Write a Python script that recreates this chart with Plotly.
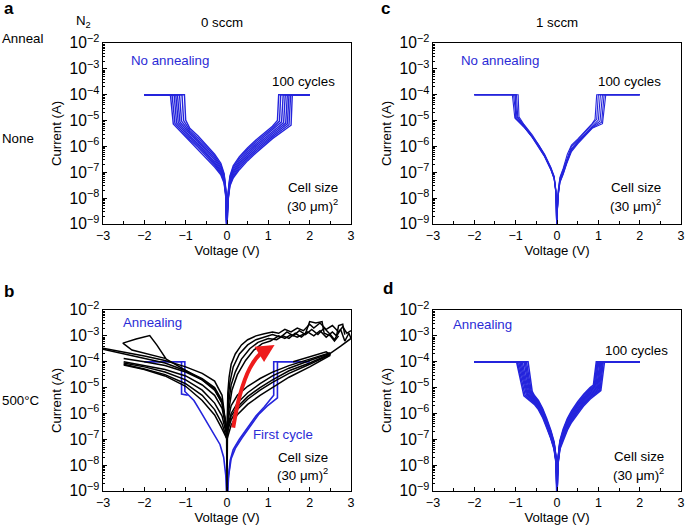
import plotly.graph_objects as go

BLUE = '#2424dc'
TXT_BLUE = '#2b2bd6'
RED = '#ee1c1c'
FONT = 'Arial, Liberation Sans, sans-serif'

# common sweep settings (log10 of current)
sweep_end = 2.0
compliance_logi = -4.0
zero_logi = -9.5

# ---- panel a : no annealing, 0 sccm ----
a_neg_v = [-0.01, -0.03, -0.07, -0.15, -0.3, -0.5, -0.7, -0.9]
a_neg_logi = [
    [-8.3, -7.65, -7.05, -6.65, -6.3, -5.95, -5.6, -5.3],
    [-8.3, -7.7, -7.1, -6.72, -6.37, -6.02, -5.68, -5.38],
    [-8.35, -7.72, -7.15, -6.8, -6.45, -6.1, -5.76, -5.45],
    [-8.4, -7.78, -7.22, -6.87, -6.52, -6.17, -5.82, -5.52],
    [-8.4, -7.8, -7.27, -6.93, -6.6, -6.25, -5.9, -5.6],
    [-8.45, -7.85, -7.32, -6.99, -6.66, -6.31, -5.96, -5.66],
    [-8.5, -7.9, -7.37, -7.05, -6.73, -6.38, -6.03, -5.73],
    [-8.5, -7.95, -7.42, -7.1, -6.8, -6.45, -6.1, -5.8],
]
a_neg_kink_v = [-1.0, -1.05, -1.1, -1.14, -1.18, -1.22, -1.26, -1.3]
a_neg_kink_logi = [-4.98, -5.0, -5.02, -5.05, -5.07, -5.09, -5.11, -5.13]
a_neg_set_v = [-1.03, -1.09, -1.15, -1.2, -1.24, -1.28, -1.33, -1.37]
a_pos_v = [0.01, 0.03, 0.07, 0.15, 0.3, 0.5, 0.7, 0.9, 1.1]
a_pos_logi = [
    [-8.4, -7.75, -7.15, -6.75, -6.4, -6.05, -5.75, -5.48, -5.22],
    [-8.4, -7.8, -7.2, -6.82, -6.47, -6.12, -5.82, -5.55, -5.29],
    [-8.45, -7.83, -7.26, -6.9, -6.55, -6.2, -5.9, -5.62, -5.36],
    [-8.5, -7.88, -7.32, -6.97, -6.62, -6.27, -5.97, -5.69, -5.43],
    [-8.5, -7.92, -7.38, -7.03, -6.69, -6.34, -6.04, -5.76, -5.5],
    [-8.55, -7.96, -7.43, -7.1, -6.76, -6.41, -6.11, -5.83, -5.57],
    [-8.6, -8.0, -7.48, -7.17, -6.83, -6.48, -6.18, -5.9, -5.63],
    [-8.6, -8.05, -7.53, -7.22, -6.9, -6.55, -6.25, -5.97, -5.7],
]
a_pos_kink_v = [1.22, 1.27, 1.32, 1.37, 1.42, 1.46, 1.5, 1.55]
a_pos_kink_logi = [-5.0, -5.02, -5.05, -5.08, -5.1, -5.13, -5.16, -5.18]
a_pos_set_v = [1.25, 1.3, 1.36, 1.41, 1.46, 1.5, 1.54, 1.58]

# ---- panel c : no annealing, 1 sccm ----
c_neg_v = [-0.01, -0.03, -0.07, -0.15, -0.3, -0.45, -0.6, -0.8]
c_neg_logi = [
    [-8.3, -7.65, -7.15, -6.8, -6.3, -5.9, -5.55, -5.15],
    [-8.3, -7.68, -7.18, -6.83, -6.33, -5.93, -5.58, -5.18],
    [-8.35, -7.7, -7.2, -6.85, -6.35, -5.95, -5.6, -5.2],
    [-8.35, -7.72, -7.22, -6.87, -6.37, -5.97, -5.62, -5.22],
    [-8.4, -7.75, -7.25, -6.9, -6.4, -6.0, -5.65, -5.25],
    [-8.4, -7.75, -7.24, -6.88, -6.38, -5.98, -5.63, -5.24],
]
c_neg_kink_v = [-0.92, -0.95, -0.97, -0.99, -1.02, -1.0]
c_neg_kink_logi = [-4.85, -4.86, -4.85, -4.88, -4.9, -4.92]
c_neg_set_v = [-0.94, -0.98, -1.02, -1.05, -1.08, -1.0]
c_pos_v = [0.01, 0.03, 0.07, 0.15, 0.25, 0.35, 0.5, 0.7, 0.85]
c_pos_logi = [
    [-8.35, -7.7, -7.2, -6.85, -6.3, -5.95, -5.72, -5.38, -5.12],
    [-8.4, -7.75, -7.25, -6.9, -6.4, -6.0, -5.76, -5.42, -5.16],
    [-8.4, -7.8, -7.3, -6.95, -6.45, -6.08, -5.8, -5.46, -5.2],
    [-8.45, -7.85, -7.35, -7.0, -6.5, -6.12, -5.84, -5.5, -5.25],
    [-8.45, -7.88, -7.38, -7.05, -6.55, -6.15, -5.86, -5.52, -5.28],
    [-8.5, -7.9, -7.4, -7.08, -6.6, -6.2, -5.9, -5.55, -5.3],
]
c_pos_kink_v = [0.92, 0.96, 1.0, 1.04, 1.08, 1.1]
c_pos_kink_logi = [-4.95, -4.95, -4.98, -5.02, -5.06, -5.12]
c_pos_set_v = [0.96, 1.0, 1.05, 1.1, 1.14, 1.18]

# ---- panel d : annealing, 1 sccm ----
d_neg_v = [-0.01, -0.03, -0.07, -0.15, -0.25, -0.35, -0.45, -0.55]
d_neg_logi = [
    [-8.2, -7.6, -7.1, -6.65, -6.2, -5.8, -5.5, -5.3],
    [-8.25, -7.62, -7.15, -6.7, -6.25, -5.85, -5.55, -5.35],
    [-8.25, -7.65, -7.18, -6.73, -6.28, -5.88, -5.58, -5.38],
    [-8.3, -7.68, -7.22, -6.77, -6.32, -5.92, -5.62, -5.42],
    [-8.3, -7.7, -7.25, -6.8, -6.35, -5.95, -5.65, -5.45],
    [-8.35, -7.72, -7.28, -6.83, -6.38, -5.98, -5.68, -5.48],
    [-8.35, -7.75, -7.3, -6.86, -6.42, -6.02, -5.72, -5.52],
    [-8.4, -7.78, -7.33, -6.9, -6.46, -6.06, -5.76, -5.56],
    [-8.4, -7.8, -7.36, -6.93, -6.5, -6.1, -5.8, -5.6],
    [-8.45, -7.85, -7.4, -6.97, -6.55, -6.15, -5.85, -5.65],
]
d_neg_kink_v = [-0.6, -0.62, -0.64, -0.66, -0.68, -0.7, -0.72, -0.74, -0.77, -0.8]
d_neg_kink_logi = [-5.15, -5.18, -5.2, -5.2, -5.22, -5.25, -5.25, -5.28, -5.3, -5.32]
d_neg_set_v = [-0.7, -0.74, -0.77, -0.8, -0.84, -0.87, -0.9, -0.93, -0.96, -0.98]
d_pos_v = [0.01, 0.03, 0.07, 0.15, 0.25, 0.35, 0.5, 0.65, 0.8]
d_pos_logi = [
    [-8.3, -7.65, -7.05, -6.6, -6.2, -5.9, -5.55, -5.25, -5.0],
    [-8.3, -7.68, -7.1, -6.66, -6.26, -5.96, -5.61, -5.31, -5.06],
    [-8.35, -7.7, -7.13, -6.71, -6.31, -6.01, -5.66, -5.36, -5.11],
    [-8.35, -7.72, -7.16, -6.75, -6.35, -6.05, -5.7, -5.4, -5.15],
    [-8.4, -7.75, -7.2, -6.8, -6.4, -6.1, -5.75, -5.45, -5.2],
    [-8.4, -7.78, -7.24, -6.85, -6.45, -6.15, -5.8, -5.5, -5.25],
    [-8.45, -7.8, -7.27, -6.89, -6.5, -6.2, -5.85, -5.55, -5.3],
    [-8.45, -7.83, -7.3, -6.93, -6.55, -6.25, -5.9, -5.6, -5.35],
    [-8.5, -7.86, -7.34, -6.97, -6.6, -6.3, -5.95, -5.65, -5.4],
    [-8.5, -7.9, -7.38, -7.02, -6.65, -6.35, -6.0, -5.7, -5.45],
]
d_pos_kink_v = [0.88, 0.9, 0.92, 0.94, 0.96, 0.98, 1.0, 1.02, 1.04, 1.06]
d_pos_kink_logi = [-4.9, -4.93, -4.95, -4.97, -5.0, -5.02, -5.05, -5.08, -5.1, -5.12]
d_pos_set_v = [0.95, 0.97, 0.99, 1.01, 1.04, 1.06, 1.08, 1.1, 1.12, 1.15]

# ---- panel b : annealing, 0 sccm ----
b_blue_v = [
    [-2.0, -1.02, -1.02, -0.8, -0.66, -0.5, -0.34, -0.17, -0.08, -0.03, 0.0],
    [-2.0, -1.1, -1.1, -0.95],
    [0.0, 0.03, 0.08, 0.15, 0.3, 0.5, 0.7, 0.9, 1.13, 1.13, 2.0],
    [0.0, 0.04, 0.1, 0.2, 0.36, 0.56, 0.76, 0.97, 1.22, 1.22, 2.0],
]
b_blue_logi = [
    [-4.0, -4.0, -5.15, -5.5, -5.87, -6.3, -6.77, -7.2, -7.7, -8.4, -9.5],
    [-4.0, -4.0, -5.25, -5.3],
    [-9.5, -8.5, -7.8, -7.4, -7.0, -6.55, -6.1, -5.75, -5.3, -4.0, -4.0],
    [-9.5, -8.4, -7.75, -7.35, -6.95, -6.5, -6.05, -5.72, -5.4, -4.0, -4.0],
]
b_black_v = [
    [-3.0, -2.5, -2.0, -1.5, -1.0, -0.6, -0.3, -0.12, -0.04, 0.0],
    [-3.0, -2.5, -2.0, -1.5, -1.0, -0.6, -0.3, -0.12, -0.04, 0.0],
    [-1.5, -2.0, -2.3, -2.52, -2.2, -1.87, -1.7, -1.47, -1.2, -0.9, -0.6, -0.3, -0.12, -0.04, 0.0],
    [-2.5, -2.0, -1.5, -1.0, -0.6, -0.3, -0.12, -0.04, 0.0],
    [-2.5, -2.0, -1.5, -1.0, -0.6, -0.3, -0.12, -0.04, 0.0],
    [-2.5, -2.0, -1.5, -1.0, -0.6, -0.3, -0.12, -0.04, 0.0],
    [-2.5, -2.0, -1.5, -1.0, -0.6, -0.3, -0.12, -0.04, 0.0],
    [-2.5, -2.0, -1.5, -1.0, -0.6, -0.3, -0.12, -0.04, 0.0],
    [-0.01, 0.0, 0.01],
    [0.0, 0.03, 0.1, 0.25, 0.5, 0.8, 1.1, 1.5, 2.0, 2.5, 2.75, 3.0],
    [0.0, 0.03, 0.1, 0.25, 0.5, 0.8, 1.1, 1.5, 2.0, 2.5, 2.4, 2.0, 1.6],
    [0.0, 0.03, 0.1, 0.25, 0.5, 0.8, 1.1, 1.5, 2.0, 2.5],
    [0.0, 0.03, 0.1, 0.25, 0.5, 0.8, 1.1, 1.5, 2.0, 2.5],
    [0.0, 0.03, 0.1, 0.25, 0.5, 0.8, 1.1, 1.5, 2.0, 2.5],
    [0.0, 0.02, 0.05, 0.1, 0.2, 0.35, 0.5, 0.7, 0.9, 1.1, 1.25, 1.4, 1.55, 1.7, 1.85, 2.0, 2.1, 2.25,
     2.4, 2.55, 2.7, 2.8, 2.9, 3.0],
    [0.0, 0.03, 0.07, 0.15, 0.3, 0.5, 0.7, 0.9, 1.1, 1.3, 1.45, 1.6, 1.75, 1.9, 2.05, 2.2, 2.35, 2.5,
     2.6, 2.75, 2.85, 2.95, 3.0],
    [0.0, 0.04, 0.1, 0.2, 0.35, 0.55, 0.75, 1.0, 1.2, 1.35, 1.5, 1.65, 1.8, 1.95, 2.1, 2.25, 2.4, 2.55,
     2.65, 2.7, 2.8, 2.85],
    [0.0, 0.05, 0.12, 0.25, 0.45, 0.65, 0.85, 1.05, 1.25, 1.4, 1.55, 1.7, 1.9, 2.0, 2.15, 2.3, 2.35,
     2.5, 2.6, 2.7],
]
b_black_logi = [
    [-3.48, -3.62, -3.78, -3.95, -4.2, -4.45, -4.75, -5.3, -6.2, -6.8],
    [-3.52, -3.7, -3.88, -4.05, -4.35, -4.65, -5.0, -5.5, -6.3, -6.8],
    [-3.87, -3.67, -3.55, -3.28, -3.12, -2.99, -3.35, -3.9, -4.15, -4.4, -4.7, -5.1, -5.6, -6.3, -6.8],
    [-3.88, -4.0, -4.15, -4.4, -4.7, -5.05, -5.6, -6.3, -6.8],
    [-4.0, -4.15, -4.3, -4.55, -4.9, -5.3, -5.8, -6.4, -6.8],
    [-4.05, -4.2, -4.4, -4.7, -5.1, -5.6, -6.1, -6.6, -6.9],
    [-4.1, -4.28, -4.5, -4.85, -5.3, -5.85, -6.4, -6.8, -7.0],
    [-4.13, -4.3, -4.55, -4.95, -5.5, -6.06, -6.6, -6.9, -7.0],
    [-6.8, -9.5, -6.8],
    [-6.8, -6.4, -6.0, -5.6, -5.2, -4.85, -4.55, -4.25, -3.95, -3.68, -3.4, -3.1],
    [-6.9, -6.6, -6.25, -5.85, -5.45, -5.1, -4.8, -4.45, -4.1, -3.72, -3.62, -3.8, -4.0],
    [-7.0, -6.8, -6.45, -6.05, -5.65, -5.3, -5.0, -4.6, -4.2, -3.75],
    [-6.7, -6.2, -5.7, -5.3, -4.95, -4.65, -4.4, -4.15, -3.9, -3.65],
    [-6.9, -6.5, -6.1, -5.75, -5.35, -5.0, -4.7, -4.35, -4.05, -3.7],
    [-6.7, -5.2, -4.6, -4.1, -3.7, -3.35, -3.15, -3.0, -2.92, -2.85, -2.9, -2.75, -2.85, -2.7, -2.8,
     -2.55, -2.7, -2.5, -2.75, -2.6, -2.85, -2.65, -2.9, -2.8],
    [-6.8, -5.4, -4.8, -4.2, -3.7, -3.35, -3.15, -3.05, -2.95, -3.05, -2.85, -3.0, -2.8, -2.95, -2.75,
     -2.95, -2.7, -2.95, -3.15, -2.75, -3.2, -2.9, -3.1],
    [-6.8, -5.6, -4.9, -4.4, -3.9, -3.5, -3.25, -3.1, -3.15, -3.0, -3.1, -2.9, -3.05, -2.85, -3.0,
     -2.8, -3.05, -2.85, -3.0, -2.6, -2.55, -2.95],
    [-6.9, -5.8, -5.1, -4.5, -3.95, -3.55, -3.3, -3.2, -3.0, -3.1, -2.95, -3.05, -2.9, -2.45, -2.5,
     -2.45, -2.9, -3.0, -3.2, -3.0],
]
b_arrow_v = [0.15, 0.31, 0.55, 0.8, 0.95]
b_arrow_logi = [-6.55, -5.3, -4.26, -3.7, -3.55]
b_arrow_tip = (1.15, -3.35)


def logs_to_amps(vals):
    return [10 ** v for v in vals]


fig = go.Figure()


def add_cycles(xr, yr, nv, nl, nkv, nkl, nsv, pv, pl, pkv, pkl, psv, width):
    for i in range(len(nl)):
        xs = [-sweep_end, nsv[i], nkv[i]] + nv[::-1] + [0.0] + pv + [pkv[i], psv[i], sweep_end]
        ys = ([compliance_logi, compliance_logi, nkl[i]] + nl[i][::-1] + [zero_logi]
              + pl[i] + [pkl[i], compliance_logi, compliance_logi])
        fig.add_trace(go.Scatter(x=xs, y=logs_to_amps(ys), mode='lines',
                                 line=dict(color=BLUE, width=width),
                                 xaxis=xr, yaxis=yr, showlegend=False, hoverinfo='skip'))


add_cycles('x', 'y', a_neg_v, a_neg_logi, a_neg_kink_v, a_neg_kink_logi, a_neg_set_v,
           a_pos_v, a_pos_logi, a_pos_kink_v, a_pos_kink_logi, a_pos_set_v, 1.4)
add_cycles('x2', 'y2', c_neg_v, c_neg_logi, c_neg_kink_v, c_neg_kink_logi, c_neg_set_v,
           c_pos_v, c_pos_logi, c_pos_kink_v, c_pos_kink_logi, c_pos_set_v, 1.1)
add_cycles('x4', 'y4', d_neg_v, d_neg_logi, d_neg_kink_v, d_neg_kink_logi, d_neg_set_v,
           d_pos_v, d_pos_logi, d_pos_kink_v, d_pos_kink_logi, d_pos_set_v, 1.5)

for xs, ys in zip(b_blue_v, b_blue_logi):
    fig.add_trace(go.Scatter(x=xs, y=logs_to_amps(ys), mode='lines', line=dict(color=BLUE, width=1.6),
                             xaxis='x3', yaxis='y3', showlegend=False, hoverinfo='skip'))
for xs, ys in zip(b_black_v, b_black_logi):
    fig.add_trace(go.Scatter(x=xs, y=logs_to_amps(ys), mode='lines', line=dict(color='black', width=1.5),
                             xaxis='x3', yaxis='y3', showlegend=False, hoverinfo='skip'))
fig.add_trace(go.Scatter(x=b_arrow_v, y=logs_to_amps(b_arrow_logi), mode='lines',
                         line=dict(color=RED, width=4, shape='spline'),
                         xaxis='x3', yaxis='y3', showlegend=False, hoverinfo='skip'))

# axes
xdoms = {'a': [0.1504, 0.5124], 'c': [0.6321, 0.9942]}
ydoms = {'top': [0.5766, 0.9187], 'bot': [0.0718, 0.4140]}
panels = [('', 'a', 'top'), ('2', 'c', 'top'), ('3', 'a', 'bot'), ('4', 'c', 'bot')]
axis_font = dict(family=FONT, size=12.5, color='black')
layout = {}
for n, col, row in panels:
    layout['xaxis' + n] = dict(
        domain=xdoms[col], anchor='y' + n, range=[-3, 3], dtick=1, tick0=0, automargin=False,
        ticks='inside', ticklen=4, tickwidth=1, tickcolor='black',
        minor=dict(ticks='inside', ticklen=3, dtick=0.5, tickcolor='black'),
        showline=True, mirror=True, linecolor='black', linewidth=1.2,
        showgrid=False, zeroline=False, tickfont=axis_font,
        title=dict(text='Voltage (V)', font=dict(family=FONT, size=13.2, color='black'), standoff=2),
    )
    layout['yaxis' + n] = dict(
        domain=ydoms[row], anchor='x' + n, type='log', range=[-9, -2], dtick=1, automargin=False,
        exponentformat='power', ticks='inside', ticklen=4, tickwidth=1, tickcolor='black',
        minor=dict(ticks='inside', ticklen=2, dtick='D1', tickcolor='black'),
        showline=True, mirror=True, linecolor='black', linewidth=1.2,
        showgrid=False, zeroline=False, tickfont=axis_font,
        title=dict(text='Current (A)', font=dict(family=FONT, size=13.2, color='black'), standoff=4),
    )

ann = []


def txt(text, x, y, xref, yref, xanchor='left', color='black', size=13.3, bold=False):
    ann.append(dict(text='<b>%s</b>' % text if bold else text, x=x, y=y, xref=xref, yref=yref,
                    xanchor=xanchor, yanchor='middle', showarrow=False,
                    font=dict(family=FONT, size=size, color=color)))


W, H = 685.0, 529.0
txt('a', 2 / W, 1 - 8 / H, 'paper', 'paper', size=17, bold=True)
txt('c', 379 / W, 1 - 8 / H, 'paper', 'paper', size=17, bold=True)
txt('b', 2 / W, 1 - 291 / H, 'paper', 'paper', size=17, bold=True)
txt('d', 381 / W, 1 - 288 / H, 'paper', 'paper', size=17, bold=True)
txt('N<sub>2</sub>', 74 / W, 1 - 22 / H, 'paper', 'paper')
txt('0 sccm', 222 / W, 1 - 23 / H, 'paper', 'paper', xanchor='center')
txt('1 sccm', 557 / W, 1 - 23 / H, 'paper', 'paper', xanchor='center')
txt('Anneal', 0, 1 - 38 / H, 'paper', 'paper')
txt('None', 0, 1 - 138 / H, 'paper', 'paper')
txt('500°C', 0, 1 - 400 / H, 'paper', 'paper')

txt('No annealing', -2.38, -2.68, 'x', 'y', color=TXT_BLUE)
txt('100 cycles', 2.66, -3.47, 'x', 'y', xanchor='right')
txt('Cell size', 1.43, -7.6, 'x', 'y')
txt('(30 μm)<sup>2</sup>', 1.41, -8.28, 'x', 'y')

txt('No annealing', -2.38, -2.68, 'x2', 'y2', color=TXT_BLUE)
txt('100 cycles', 2.56, -3.47, 'x2', 'y2', xanchor='right')
txt('Cell size', 1.26, -7.6, 'x2', 'y2')
txt('(30 μm)<sup>2</sup>', 1.24, -8.28, 'x2', 'y2')

txt('Annealing', -2.57, -2.48, 'x3', 'y3', color=TXT_BLUE)
txt('First cycle', 0.59, -6.82, 'x3', 'y3', color=TXT_BLUE)
txt('Cell size', 1.18, -7.7, 'x3', 'y3')
txt('(30 μm)<sup>2</sup>', 1.16, -8.38, 'x3', 'y3')

txt('Annealing', -2.57, -2.58, 'x4', 'y4', color=TXT_BLUE)
txt('100 cycles', 2.73, -3.55, 'x4', 'y4', xanchor='right')
txt('Cell size', 1.32, -7.67, 'x4', 'y4')
txt('(30 μm)<sup>2</sup>', 1.3, -8.35, 'x4', 'y4')

ann.append(dict(x=b_arrow_tip[0], y=b_arrow_tip[1], ax=b_arrow_v[-1], ay=b_arrow_logi[-1],
                xref='x3', yref='y3', axref='x3', ayref='y3', showarrow=True, text='',
                arrowhead=2, arrowsize=0.9, arrowwidth=4, arrowcolor=RED, standoff=0))

fig.update_layout(
    width=685, height=529, margin=dict(l=0, r=0, t=0, b=0),
    paper_bgcolor='white', plot_bgcolor='white',
    font=dict(family=FONT, size=12, color='black'),
    showlegend=False, annotations=ann, **layout,
)

# the page body has a default 8px margin; drop it so the figure fills the window
fig.write_html('out.html', config={'displayModeBar': False},
               post_script="document.body.style.margin='0';")
